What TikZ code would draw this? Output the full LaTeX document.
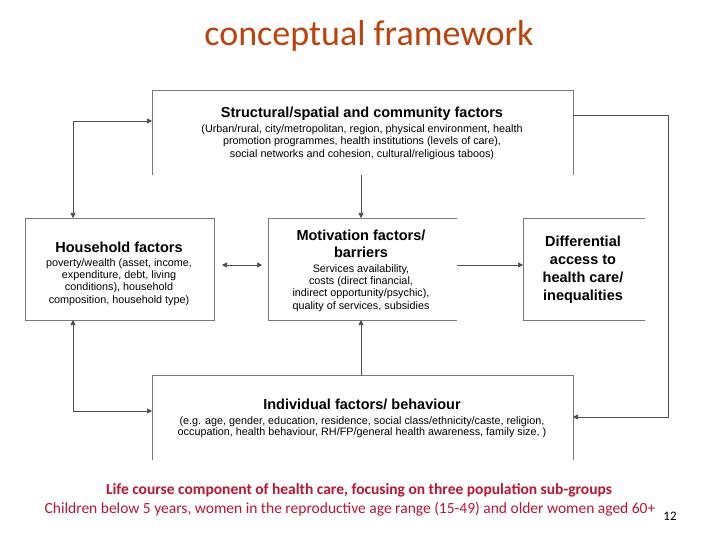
\documentclass[tikz,border=0pt]{standalone}
\usepackage{fontspec}
\setmainfont{Liberation Sans}
\newfontfamily\carl{Carlito}
\usetikzlibrary{arrows.meta}
\definecolor{titlec}{RGB}{190,65,10}
\definecolor{redc}{RGB}{190,20,50}
\definecolor{boxc}{RGB}{120,120,120}
\tikzset{x=1pt,y=-1pt,
 edge/.style={draw=boxc,line width=0.8pt},
 arr/.style={draw=black!70,line width=0.7pt,-{Triangle[length=5pt,width=5pt]}},
 darr/.style={draw=black!70,line width=0.7pt,{Triangle[length=5pt,width=5pt]}-{Triangle[length=5pt,width=5pt]}},
 lbl/.style={align=center,inner sep=0pt,font=\fontsize{10.8}{12.4}\selectfont},
 hd/.style={align=center,inner sep=0pt,font=\fontsize{14.5}{17}\selectfont\bfseries}}
\begin{document}
\begin{tikzpicture}
\useasboundingbox[fill=white] (0,0) rectangle (720,540);
\node[font=\fontsize{36}{40}\selectfont\carl,text=titlec] (title) at (369,36) {conceptual framework};
% boxes
\draw[edge] (152,175) -- (152,90) -- (573,90) -- (573,175);
\coordinate (topS) at (361,175);
\coordinate (topW) at (152,121);
\coordinate (topE) at (573,115);
\draw[edge] (25,218) rectangle (214,320);
\coordinate (hhN) at (73,218); \coordinate (hhS) at (73,320); \coordinate (hhE) at (214,265);
\draw[edge] (457,218) -- (268,218) -- (268,320) -- (457,320);
\coordinate (moN) at (361,218); \coordinate (moS) at (361,320); \coordinate (moW) at (268,265); \coordinate (moE) at (457,265);
\draw[edge] (645,218) -- (523,218) -- (523,320) -- (645,320);
\coordinate (diW) at (523,265);
\draw[edge] (152,460) -- (152,375) -- (573,375) -- (573,460);
\coordinate (inN) at (361,375); \coordinate (inW) at (152,411); \coordinate (inE) at (573,417);
% texts
\node[hd] (t1) at (362,114) {Structural/spatial and community factors};
\node[lbl] (t1b) at (362,142) {(Urban/rural, city/metropolitan, region, physical environment, health\\promotion programmes, health institutions (levels of care),\\social networks and cohesion, cultural/religious taboos)};
\node[hd] (t2) at (119,247) {Household factors};
\node[lbl] (t2b) at (119,282) {poverty/wealth (asset, income,\\expenditure, debt, living\\conditions), household\\composition, household type)};
\node[hd] (t3) at (361,244) {Motivation factors/\\barriers};
\node[lbl] (t3b) at (361,288) {Services availability,\\costs (direct financial,\\indirect opportunity/psychic),\\quality of services, subsidies};
\node[hd,font=\fontsize{14.5}{18}\selectfont\bfseries] (t4) at (583,270) {Differential\\access to\\health care/\\inequalities};
\node[hd] (t5) at (362,404) {Individual factors/ behaviour};
\node[lbl,font=\fontsize{10.8}{11}\selectfont] (t5b) at (362,427) {(e.g. age, gender, education, residence, social class/ethnicity/caste, religion,\\occupation, health behaviour, RH/FP/general health awareness, family size, )};
\node[font=\fontsize{15.5}{18}\selectfont\carl\bfseries,text=redc] (b1) at (359,490) {Life course component of health care, focusing on three population sub-groups};
\node[font=\fontsize{15.5}{18}\selectfont\carl,text=redc] (b2) at (350,509) {Children below 5 years, women in the reproductive age range (15-49) and older women aged 60+};
\node[font=\fontsize{13}{15}\selectfont\carl] (pg) at (670,516) {12};
% connectors
\draw[darr] (topW) -| (hhN);
\draw[darr] (hhS) |- (inW);
\draw[arr] (topS) -- (moN);
\draw[arr] (inN) -- (moS);
\draw[darr] ([xshift=8]hhE) -- ([xshift=-6]moW);
\draw[arr] (moE) -- (diW);
\draw[arr] (topE) -| (668,417) -- (inE);
\end{tikzpicture}
\end{document}
